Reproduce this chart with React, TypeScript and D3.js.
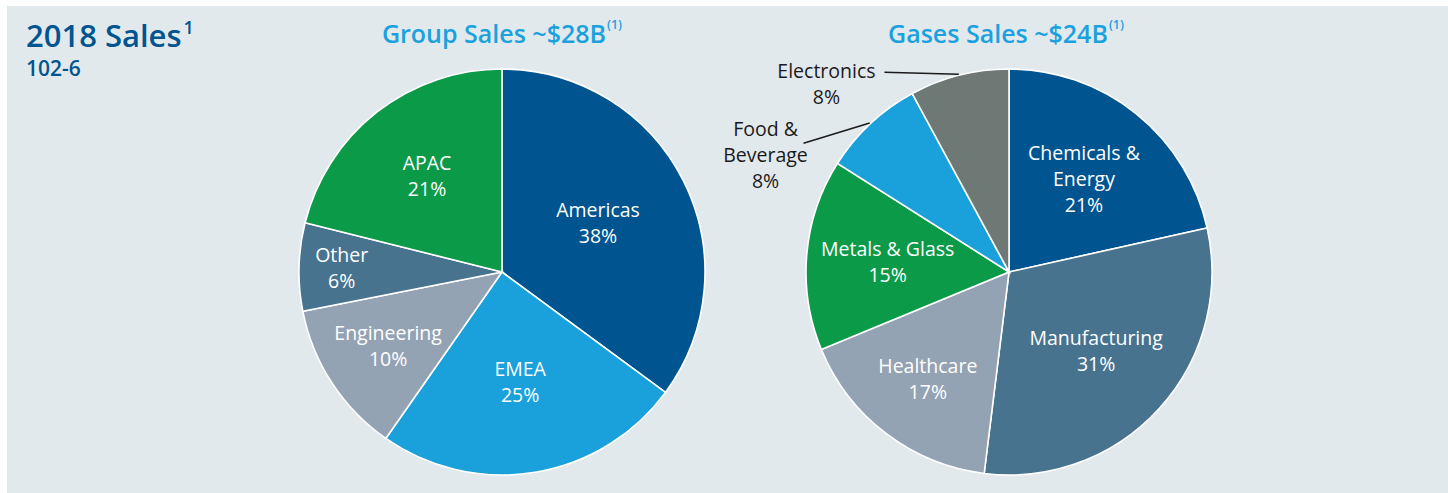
import * as d3 from "d3";
import React from "react";

const width = 1448;
const height = 493;
const font = "'Open Sans', 'Noto Sans', sans-serif";

// Group sales, slice sizes as drawn and the printed percentages
const groupNames = ["Americas", "EMEA", "Engineering", "Other", "APAC"];
const groupValues = [35.1, 24.6, 12.2, 7.0, 21.1];
const groupLabels = ["38%", "25%", "10%", "6%", "21%"];
const groupColors = ["#00548f", "#1aa0db", "#94a3b3", "#47738f", "#0b9a48"];

// Gases sales
const gasNames = ["Chemicals &\nEnergy", "Manufacturing", "Healthcare", "Metals & Glass", "Food &\nBeverage", "Electronics"];
const gasValues = [21.5, 30.4, 16.8, 15.2, 8.1, 7.9];
const gasLabels = ["21%", "31%", "17%", "15%", "8%", "8%"];
const gasColors = ["#00548f", "#47738f", "#94a3b3", "#0b9a48", "#1aa0db", "#6e7874"];

// label placement: fraction of radius from centre (inside labels)
const groupLabelR = [0.53, 0.55, 0.67, 0.79, 0.6];
const gasLabelR = [0.59, 0.58, 0.66, 0.6, 0, 0];
// outside labels: [angle deg, fraction of radius, leader dx, leader dy]
const gasOutside: Record<number, number[]> = {
  4: [295.6, 1.33, 38, -12],
  5: [315.8, 1.29, 58, -12],
};

const r = 203;
const lineH = 26;

type PieProps = {
  cx: number;
  cy: number;
  names: string[];
  values: number[];
  labels: string[];
  colors: string[];
  labelR: number[];
  outside?: Record<number, number[]>;
};

const Pie = ({ cx, cy, names, values, labels, colors, labelR, outside = {} }: PieProps) => {
  const pie = d3.pie<number>().sort(null).value((d) => d);
  const arcs = pie(values);
  const arc = d3.arc<d3.PieArcDatum<number>>().innerRadius(0).outerRadius(r);

  return (
    <g transform={`translate(${cx},${cy})`}>
      {arcs.map((a, i) => (
        <path key={i} d={arc(a) || ""} fill={colors[i]} stroke="#ffffff" strokeWidth={1.6} />
      ))}
      {arcs.map((a, i) => {
        const lines = [...names[i].split("\n"), labels[i]];
        const mid = (a.startAngle + a.endAngle) / 2;
        const out = outside[i];
        let x: number, y: number;
        let leader = null;
        if (out) {
          const ang = (out[0] * Math.PI) / 180;
          x = Math.sin(ang) * r * out[1];
          y = -Math.cos(ang) * r * out[1];
          const ex = Math.sin(mid) * (r + 1);
          const ey = -Math.cos(mid) * (r + 1);
          leader = (
            <line x1={x + out[2]} y1={y + out[3]} x2={ex} y2={ey} stroke="#1a1a1a" strokeWidth={1.5} />
          );
        } else {
          x = Math.sin(mid) * r * labelR[i];
          y = -Math.cos(mid) * r * labelR[i];
        }
        return (
          <g key={"l" + i}>
            {leader}
            <text
              textAnchor="middle"
              fontFamily={font}
              fontSize={19.5}
              fill={out ? "#1a1a1a" : "#ffffff"}
            >
              {lines.map((t, j) => (
                <tspan key={j} x={x} y={y + (j - (lines.length - 1) / 2) * lineH} dy="0.36em">
                  {t}
                </tspan>
              ))}
            </text>
          </g>
        );
      })}
    </g>
  );
};

const Header = ({ x, text }: { x: number; text: string }) => (
  <text x={x} y={43} textAnchor="middle" fontFamily={font} fontSize={25} fontWeight={600} fill="#1ba1dd">
    {text}
    <tspan fontSize={12.5} dy={-14} dx={1}>(1)</tspan>
  </text>
);

export default function App() {
  return (
    <svg width={width} height={height} style={{ position: "absolute", left: 0, top: 0, display: "block" }}>
      <rect x={7} y={6} width={width - 7} height={height - 6} fill="#e2e9ed" />
      <text x={26} y={47} fontFamily={font} fontSize={31} fontWeight={600} fill="#00548f">
        2018 Sales
        <tspan fontSize={18} dy={-13} dx={2}>1</tspan>
      </text>
      <text x={26} y={76} fontFamily={font} fontSize={21} fontWeight={600} fill="#00548f">
        102-6
      </text>
      <Header x={502} text="Group Sales ~$28B" />
      <Header x={1006} text="Gases Sales ~$24B" />
      <Pie
        cx={502}
        cy={272}
        names={groupNames}
        values={groupValues}
        labels={groupLabels}
        colors={groupColors}
        labelR={groupLabelR}
      />
      <Pie
        cx={1009}
        cy={272}
        names={gasNames}
        values={gasValues}
        labels={gasLabels}
        colors={gasColors}
        labelR={gasLabelR}
        outside={gasOutside}
      />
    </svg>
  );
}
